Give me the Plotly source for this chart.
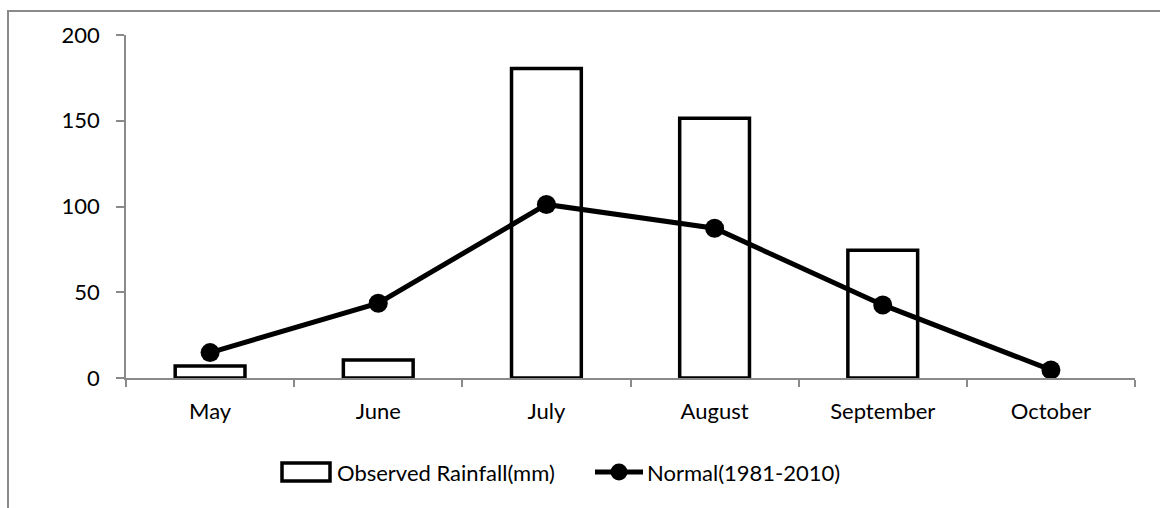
import plotly.graph_objects as go

# Monthly rainfall data
months = ["May", "June", "July", "August", "September", "October"]
observed_rainfall = [7, 10.5, 180.5, 151.5, 74.5, None]
normal_1981_2010 = [14.8, 43.6, 101.2, 87.3, 42.6, 4.7]
y_ticks = [0, 50, 100, 150, 200]

W, H = 1160, 508
ML, MR, MT, MB = 126, 25, 35, 130
PW, PH = W - ML - MR, H - MT - MB


def px(x):
    """pixel x -> paper x"""
    return (x - ML) / PW


def py(y):
    """pixel y -> paper y"""
    return (H - MB - y) / PH


FONT = "Lato"
FSIZE = 22
AXIS_GREY = "#8a8a8a"

fig = go.Figure()

fig.add_trace(go.Bar(
    x=months, y=observed_rainfall, name="Observed Rainfall(mm)",
    marker=dict(color="white", line=dict(color="black", width=3.5)),
    showlegend=False,
))
fig.add_trace(go.Scatter(
    x=months, y=normal_1981_2010, name="Normal(1981-2010)",
    mode="lines+markers",
    line=dict(color="black", width=5),
    marker=dict(color="black", size=19),
    cliponaxis=False,
    showlegend=False,
))

shapes = [
    # outer chart frame (right and bottom run past the page edge)
    dict(type="rect", xref="paper", yref="paper",
         x0=px(8), x1=px(W + 20), y0=py(H + 20), y1=py(11),
         line=dict(color=AXIS_GREY, width=2), fillcolor="rgba(0,0,0,0)",
         layer="below"),
    # legend key: bar
    dict(type="rect", xref="paper", yref="paper",
         x0=px(282), x1=px(330), y0=py(481), y1=py(463),
         line=dict(color="black", width=3.5), fillcolor="white"),
    # legend key: line
    dict(type="line", xref="paper", yref="paper",
         x0=px(595), x1=px(643), y0=py(472), y1=py(472),
         line=dict(color="black", width=5)),
    # legend key: marker
    dict(type="circle", xref="paper", yref="paper",
         x0=px(610.5), x1=px(627.5), y0=py(480.5), y1=py(463.5),
         line=dict(color="black", width=0), fillcolor="black"),
]

annotations = [
    dict(text="Observed Rainfall(mm)", xref="paper", yref="paper",
         x=px(335), y=py(472), xanchor="left", yanchor="middle",
         showarrow=False, font=dict(family=FONT, size=FSIZE, color="black")),
    dict(text="Normal(1981-2010)", xref="paper", yref="paper",
         x=px(645), y=py(472), xanchor="left", yanchor="middle",
         showarrow=False, font=dict(family=FONT, size=FSIZE, color="black")),
]

fig.update_layout(
    width=W, height=H,
    margin=dict(l=ML, r=MR, t=MT, b=MB),
    paper_bgcolor="white", plot_bgcolor="white",
    bargap=0.585,
    font=dict(family=FONT, size=FSIZE, color="black"),
    shapes=shapes, annotations=annotations,
    showlegend=False,
)

fig.update_xaxes(
    type="category", range=[-0.5, 5.5],
    showline=True, linecolor=AXIS_GREY, linewidth=1.5,
    ticks="outside", tickson="boundaries", ticklen=7,
    tickcolor=AXIS_GREY, tickwidth=1.5,
    ticklabelstandoff=13,
    showgrid=False, zeroline=False,
)
fig.update_yaxes(
    range=[0, 200], tickvals=y_ticks,
    showline=True, linecolor=AXIS_GREY, linewidth=1.5,
    ticks="outside", ticklen=8, tickcolor=AXIS_GREY, tickwidth=1.5,
    ticklabelstandoff=12,
    showgrid=False, zeroline=False,
)

fig.write_html("out.html")
